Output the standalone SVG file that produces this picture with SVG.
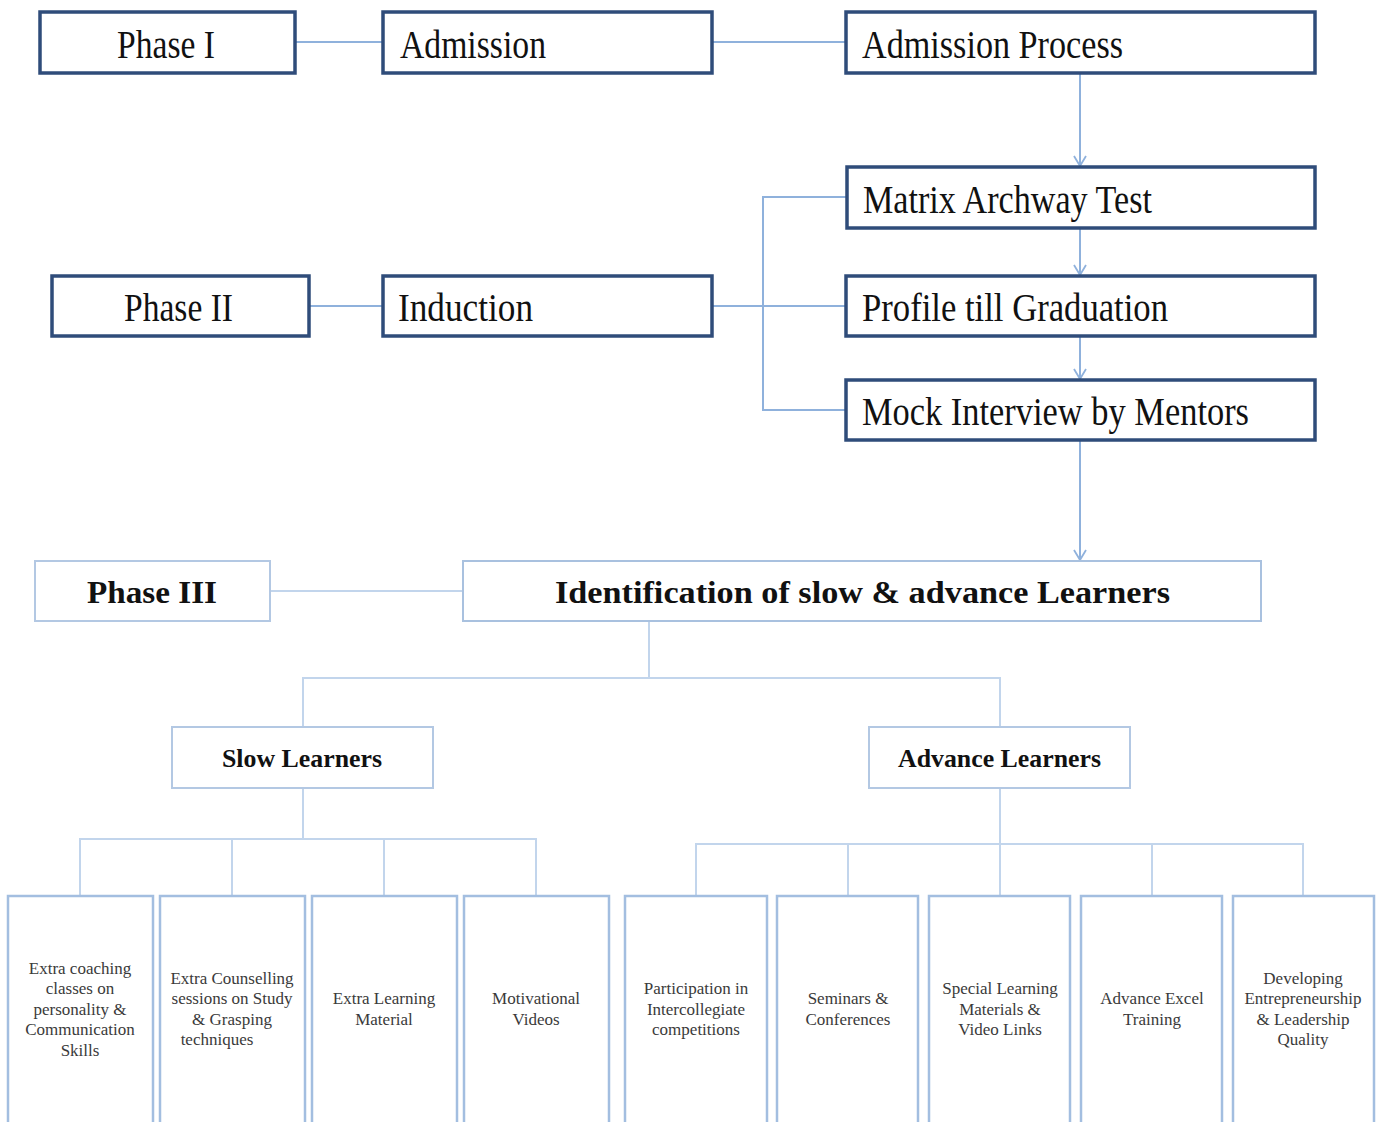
<svg xmlns="http://www.w3.org/2000/svg" width="1381" height="1122" viewBox="0 0 1381 1122">
<style>
.dark{fill:#fff;stroke:#2F4C7A;stroke-width:3.5}
.lite{fill:#fff;stroke:#B3C8E3;stroke-width:2}
.leaf{fill:#fff;stroke:#A3BEE0;stroke-width:2.5}
.big{font-family:"Liberation Serif","Times New Roman",serif;font-size:39px;fill:#111}
.bold{font-family:"Liberation Serif","Times New Roman",serif;font-weight:bold;fill:#111}
.sm{font-family:"Liberation Serif","Times New Roman",serif;font-size:17px;fill:#3a3a3a;text-anchor:middle}
.c1{fill:none;stroke:#8FB1DC;stroke-width:2}
.c2{fill:none;stroke:#C2D5EC;stroke-width:2}
</style>
<defs>
<marker id="arr" viewBox="0 0 12 14" refX="11" refY="7" markerWidth="12" markerHeight="14" markerUnits="userSpaceOnUse" orient="auto">
<path d="M1,1 L11,7 L1,13" fill="none" stroke="#8FB1DC" stroke-width="1.8"/>
</marker>
</defs>
<rect width="1381" height="1122" fill="#fff"/>

<g id="connectors">
<line class="c1" x1="295" y1="42" x2="383" y2="42"/>
<line class="c1" x1="712" y1="42" x2="846" y2="42"/>
<line class="c1" x1="1080" y1="74" x2="1080" y2="166" marker-end="url(#arr)"/>
<line class="c1" x1="1080" y1="229" x2="1080" y2="275" marker-end="url(#arr)"/>
<line class="c1" x1="1080" y1="337" x2="1080" y2="379" marker-end="url(#arr)"/>
<line class="c1" x1="1080" y1="441" x2="1080" y2="560" marker-end="url(#arr)"/>
<line class="c1" x1="309" y1="306" x2="383" y2="306"/>
<line class="c1" x1="712" y1="306" x2="846" y2="306"/>
<polyline class="c1" points="847,197 763,197 763,410 846,410"/>
<line class="c2" x1="270" y1="591" x2="463" y2="591"/>
<polyline class="c2" points="649,621 649,678"/>
<polyline class="c2" points="303,727 303,678 1000,678 1000,727"/>
<polyline class="c2" points="303,788 303,839"/>
<polyline class="c2" points="80,895 80,839 536,839 536,895"/>
<line class="c2" x1="232" y1="839" x2="232" y2="895"/>
<line class="c2" x1="384" y1="839" x2="384" y2="895"/>
<polyline class="c2" points="1000,788 1000,895"/>
<polyline class="c2" points="696,895 696,844 1303,844 1303,895"/>
<line class="c2" x1="848" y1="844" x2="848" y2="895"/>
<line class="c2" x1="1152" y1="844" x2="1152" y2="895"/>
</g>

<g id="phase1"><rect class="dark" x="40" y="12" width="255" height="61"/><text class="big" x="117" y="58" textLength="98" lengthAdjust="spacingAndGlyphs">Phase I</text></g>
<g id="admission"><rect class="dark" x="383" y="12" width="329" height="61"/><text class="big" x="400" y="58" textLength="146" lengthAdjust="spacingAndGlyphs">Admission</text></g>
<g id="admission-process"><rect class="dark" x="846" y="12" width="469" height="61"/><text class="big" x="862" y="58" textLength="261" lengthAdjust="spacingAndGlyphs">Admission Process</text></g>
<g id="matrix"><rect class="dark" x="847" y="167" width="468" height="61"/><text class="big" x="863" y="213" textLength="289" lengthAdjust="spacingAndGlyphs">Matrix Archway Test</text></g>
<g id="profile"><rect class="dark" x="846" y="276" width="469" height="60"/><text class="big" x="862" y="321" textLength="306" lengthAdjust="spacingAndGlyphs">Profile till Graduation</text></g>
<g id="mock"><rect class="dark" x="846" y="380" width="469" height="60"/><text class="big" x="862" y="425" textLength="387" lengthAdjust="spacingAndGlyphs">Mock Interview by Mentors</text></g>
<g id="phase2"><rect class="dark" x="52" y="276" width="257" height="60"/><text class="big" x="124" y="321" textLength="109" lengthAdjust="spacingAndGlyphs">Phase II</text></g>
<g id="induction"><rect class="dark" x="383" y="276" width="329" height="60"/><text class="big" x="398" y="321" textLength="135" lengthAdjust="spacingAndGlyphs">Induction</text></g>

<g id="phase3"><rect class="lite" x="35" y="561" width="235" height="60"/><text class="bold" x="87" y="603" font-size="32" textLength="130" lengthAdjust="spacingAndGlyphs">Phase III</text></g>
<g id="identification"><rect class="lite" x="463" y="561" width="798" height="60" style="stroke:#A9C1DF"/><text class="bold" x="555" y="603" font-size="32" textLength="615" lengthAdjust="spacingAndGlyphs">Identification of slow &amp; advance Learners</text></g>
<g id="slow"><rect class="lite" x="172" y="727" width="261" height="61"/><text class="bold" x="222" y="767" font-size="26" textLength="160" lengthAdjust="spacingAndGlyphs">Slow Learners</text></g>
<g id="advance"><rect class="lite" x="869" y="727" width="261" height="61"/><text class="bold" x="898" y="767" font-size="26" textLength="203" lengthAdjust="spacingAndGlyphs">Advance Learners</text></g>

<g id="s1"><rect class="leaf" x="8" y="896" width="145" height="240"/><text class="sm"><tspan x="80" y="974">Extra coaching</tspan><tspan x="80" y="994">classes on</tspan><tspan x="80" y="1015">personality &amp;</tspan><tspan x="80" y="1035">Communication</tspan><tspan x="80" y="1056">Skills</tspan></text></g>
<g id="s2"><rect class="leaf" x="160" y="896" width="145" height="240"/><text class="sm"><tspan x="232" y="984">Extra Counselling</tspan><tspan x="232" y="1004">sessions on Study</tspan><tspan x="232" y="1025">&amp; Grasping</tspan><tspan x="217" y="1045">techniques</tspan></text></g>
<g id="s3"><rect class="leaf" x="312" y="896" width="145" height="240"/><text class="sm"><tspan x="384" y="1004">Extra Learning</tspan><tspan x="384" y="1025">Material</tspan></text></g>
<g id="s4"><rect class="leaf" x="464" y="896" width="145" height="240"/><text class="sm"><tspan x="536" y="1004">Motivational</tspan><tspan x="536" y="1025">Videos</tspan></text></g>
<g id="a1"><rect class="leaf" x="625" y="896" width="142" height="240"/><text class="sm"><tspan x="696" y="994">Participation in</tspan><tspan x="696" y="1015">Intercollegiate</tspan><tspan x="696" y="1035">competitions</tspan></text></g>
<g id="a2"><rect class="leaf" x="777" y="896" width="141" height="240"/><text class="sm"><tspan x="848" y="1004">Seminars &amp;</tspan><tspan x="848" y="1025">Conferences</tspan></text></g>
<g id="a3"><rect class="leaf" x="929" y="896" width="141" height="240"/><text class="sm"><tspan x="1000" y="994">Special Learning</tspan><tspan x="1000" y="1015">Materials &amp;</tspan><tspan x="1000" y="1035">Video Links</tspan></text></g>
<g id="a4"><rect class="leaf" x="1081" y="896" width="141" height="240"/><text class="sm"><tspan x="1152" y="1004">Advance Excel</tspan><tspan x="1152" y="1025">Training</tspan></text></g>
<g id="a5"><rect class="leaf" x="1233" y="896" width="141" height="240"/><text class="sm"><tspan x="1303" y="984">Developing</tspan><tspan x="1303" y="1004">Entrepreneurship</tspan><tspan x="1303" y="1025">&amp; Leadership</tspan><tspan x="1303" y="1045">Quality</tspan></text></g>
</svg>
